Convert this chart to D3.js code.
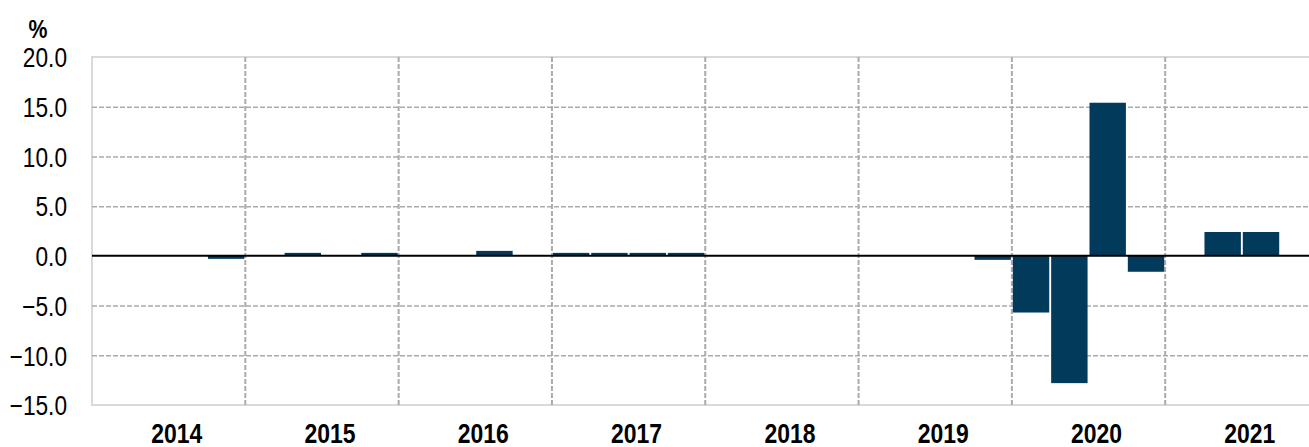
<!DOCTYPE html>
<html lang="en">
<head>
<meta charset="UTF-8">
<title>Quarterly change, %</title>
<script src="https://d3js.org/d3.v7.min.js"></script>
<style>
  body { margin: 0; background: #fff; }
  svg text { font-family: "Liberation Sans", Arial, sans-serif; fill: #000; }
  .grid line { stroke: #ababab; stroke-dasharray: 5,2; stroke-width: 1.5; }
  .grid path { display: none; }
  .vgrid line { stroke-width: 2; }
</style>
</head>
<body>
<svg width="1309" height="447"></svg>
<script>
// years on the x axis, four quarters each
var years = ["2014", "2015", "2016", "2017", "2018", "2019", "2020", "2021"];
var quarters = ["Q1", "Q2", "Q3", "Q4"];
// quarterly values (%) per year, null = no bar
var values2014 = [0, 0, 0, -0.3];
var values2015 = [0, 0.3, 0, 0.3];
var values2016 = [0, 0, 0.5, 0];
var values2017 = [0.3, 0.3, 0.3, 0.3];
var values2018 = [0, 0, 0, 0];
var values2019 = [0, 0, 0, -0.4];
var values2020 = [-5.7, -12.8, 15.4, -1.6];
var values2021 = [null, 2.4, 2.4, null];
var yTicks = [-15, -10, -5, 0, 5, 10, 15, 20];

var allValues = [values2014, values2015, values2016, values2017, values2018, values2019, values2020, values2021];
var data = [];
years.forEach(function(yr, i) {
  quarters.forEach(function(q, j) {
    var v = allValues[i][j];
    if (v !== null && v !== 0) data.push({year: yr, quarter: q, value: v});
  });
});

var svg = d3.select("svg");
var plotLeft = 92, plotRight = 1318.5, plotTop = 57, plotBottom = 405;

var x0 = d3.scaleBand().domain(years).range([plotLeft, plotRight]);
var x1 = d3.scaleBand().domain(quarters).range([0, x0.bandwidth()])
  .paddingInner(0.05).paddingOuter(0.025);
var y = d3.scaleLinear().domain([-15, 20]).range([plotBottom, plotTop]);

// light plot frame
svg.append("rect")
  .attr("x", plotLeft).attr("y", plotTop)
  .attr("width", plotRight - plotLeft).attr("height", plotBottom - plotTop)
  .attr("fill", "none").attr("stroke", "#d9d9d9").attr("stroke-width", 2);

// horizontal grid
svg.append("g")
  .attr("class", "grid")
  .attr("transform", "translate(" + plotLeft + ",0)")
  .call(d3.axisLeft(y).tickValues(yTicks.filter(function(d) { return d !== 0 && d !== -15 && d !== 20; }))
    .tickSize(-(plotRight - plotLeft)).tickFormat(""));

// vertical grid at year boundaries
svg.append("g")
  .attr("class", "grid vgrid")
  .selectAll("line")
  .data(years.slice(1))
  .enter().append("line")
  .attr("x1", function(d) { return x0(d); })
  .attr("x2", function(d) { return x0(d); })
  .attr("y1", plotTop).attr("y2", plotBottom);

// bars
svg.append("g")
  .selectAll("rect")
  .data(data)
  .enter().append("rect")
  .attr("x", function(d) { return x0(d.year) + x1(d.quarter); })
  .attr("width", x1.bandwidth())
  .attr("y", function(d) { return y(Math.max(0, d.value)); })
  .attr("height", function(d) { return Math.abs(y(d.value) - y(0)); })
  .attr("fill", "#023a5b");

// zero line
svg.append("line")
  .attr("x1", plotLeft).attr("x2", plotRight)
  .attr("y1", y(0)).attr("y2", y(0))
  .attr("stroke", "#000").attr("stroke-width", 2);

// y tick labels (narrowed like the original)
var yAxis = svg.append("g")
  .attr("transform", "translate(67,0)")
  .call(d3.axisLeft(y).tickValues(yTicks).tickSize(0).tickPadding(0)
    .tickFormat(d3.format(".1f")));
yAxis.select(".domain").remove();
yAxis.attr("font-family", null).attr("font-size", null);
yAxis.selectAll("text")
  .attr("x", 0)
  .attr("dy", "0.36em")
  .attr("font-size", "27px")
  .attr("transform", "scale(0.84,1)");

// year labels
var xAxis = svg.append("g")
  .attr("transform", "translate(8," + plotBottom + ")")
  .call(d3.axisBottom(x0).tickSize(0).tickPadding(0));
xAxis.select(".domain").remove();
xAxis.attr("font-family", null).attr("font-size", null);
xAxis.selectAll("text")
  .attr("y", 38).attr("dy", 0)
  .attr("font-size", "28px")
  .attr("font-weight", "bold")
  .attr("transform", "scale(0.82,1)");

// unit label
svg.append("text")
  .attr("x", 38).attr("y", 38)
  .attr("text-anchor", "middle")
  .attr("font-size", "26px")
  .attr("font-weight", "bold")
  .attr("transform", "translate(38,0) scale(0.82,1) translate(-38,0)")
  .text("%");
</script>
</body>
</html>
